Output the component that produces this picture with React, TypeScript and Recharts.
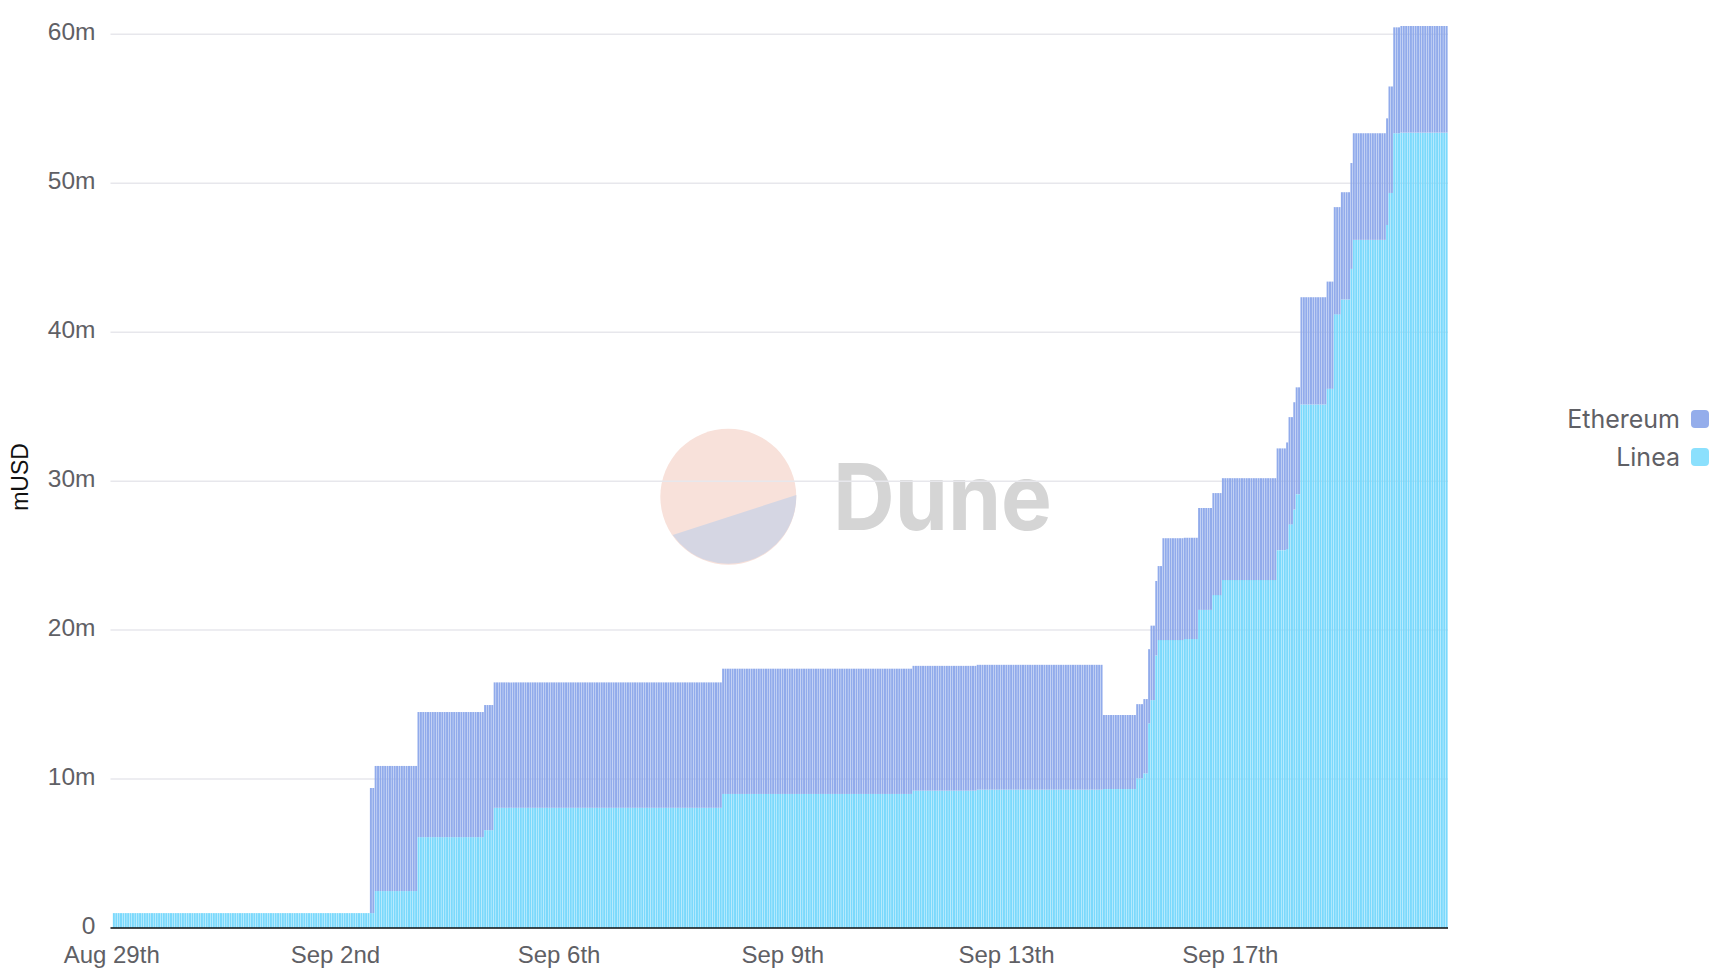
import { BarChart, Bar, XAxis, YAxis, CartesianGrid, Legend } from 'recharts'

// Hourly balances come in long flat runs, so each level is stored once with its length
const hoursAtLevel = [1, 108, 2, 18, 28, 4, 96, 80, 27, 53, 14, 3, 2, 1, 2, 1, 2, 9, 6, 6, 4, 23, 4, 1, 2, 1, 2, 11, 3, 3, 4, 1, 14, 1, 2, 3, 20]
const lineaLevels = [0, 1, 1, 2.48, 6.1, 6.57, 8.07, 9, 9.22, 9.29, 9.33, 10.05, 10.38, 13.74, 15.3, 18.3, 19.33, 19.33, 19.4, 21.36, 22.35, 23.36, 25.37, 25.44, 27.1, 28.1, 29.13, 35.15, 36.2, 41.2, 42.2, 44.25, 46.2, 47.2, 49.35, 53.36, 53.4]
const ethereumLevels = [0, 0, 8.4, 8.4, 8.4, 8.4, 8.42, 8.41, 8.38, 8.38, 4.97, 4.98, 4.99, 4.98, 5, 5, 4.97, 6.84, 6.8, 6.84, 6.85, 6.84, 6.83, 7.16, 7.2, 7.2, 7.17, 7.2, 7.2, 7.2, 7.2, 7.11, 7.16, 7.16, 7.15, 7.11, 7.16]

const tickLabels = ['Aug 29th', 'Sep 2nd', 'Sep 6th', 'Sep 9th', 'Sep 13th', 'Sep 17th']
const hoursPerTick = 94
const yTicks = [0, 10, 20, 30, 40, 50, 60]

const chartData = hoursAtLevel.flatMap((hours, level) =>
  Array.from({ length: hours }, () => ({
    Linea: lineaLevels[level],
    Ethereum: ethereumLevels[level]
  }))
).map((row, hour) => ({ ...row, hour }))

const axisFont = 'Liberation Sans, Arial, sans-serif'
const axisColor = '#5f6065'
const swatchColors: Record<string, string> = { Ethereum: '#94adeb', Linea: '#8be0fd' }

function Watermark() {
  return (
    <svg width={1724} height={976} style={{ position: 'absolute', left: 0, top: 0 }}>
      <circle cx={728.3} cy={496.7} r={68} fill="#f8e1da" />
      <path d="M 672.7 535 L 796.3 495 A 68 68 0 0 1 672.7 535 Z" fill="#d5d6e3" />
      <text
        x={833}
        y={530}
        fontFamily="Inter, sans-serif"
        fontWeight={700}
        fontSize={92}
        fill="#d5d5d5"
        textLength={219}
        lengthAdjust="spacingAndGlyphs"
      >
        Dune
      </text>
    </svg>
  )
}

function LegendList({ payload }: { payload?: Array<{ value: string }> }) {
  return (
    <div style={{ display: 'flex', flexDirection: 'column', alignItems: 'flex-end', paddingRight: 15 }}>
      {(payload ?? []).map((item) => (
        <div key={item.value} style={{ display: 'flex', alignItems: 'center', height: 38 }}>
          <span style={{ fontFamily: 'Inter, sans-serif', fontSize: 25, color: axisColor, marginRight: 11 }}>
            {item.value}
          </span>
          <span style={{ width: 18, height: 18, borderRadius: 4, background: swatchColors[item.value] }} />
        </div>
      ))}
    </div>
  )
}

export default function App() {
  return (
    <div style={{ position: 'fixed', left: 0, top: 0, width: 1724, height: 976, background: '#fff', overflow: 'hidden' }}>
      <Watermark />
      <div style={{ position: 'absolute', left: 0, top: 0 }}>
        <BarChart
          width={1724}
          height={976}
          data={chartData}
          barCategoryGap={0}
          margin={{ top: 26, right: 52, bottom: 0, left: 0 }}
        >
          <CartesianGrid vertical={false} horizontalValues={yTicks} stroke="#e7e7ec" strokeWidth={1.5} />
          <XAxis
            dataKey="hour"
            height={48}
            interval={hoursPerTick - 1}
            tickLine={false}
            tickSize={0}
            tickMargin={18}
            axisLine={{ stroke: '#111', strokeWidth: 1.5 }}
            tick={{ fontFamily: axisFont, fontSize: 24, fill: axisColor }}
            tickFormatter={(hour: number) => tickLabels[hour / hoursPerTick] ?? ''}
          />
          <YAxis
            width={110.5}
            domain={[0, 60.56]}
            ticks={yTicks}
            axisLine={false}
            tickLine={false}
            tickSize={0}
            tickMargin={15}
            tick={{ fontFamily: axisFont, fontSize: 24.5, fill: axisColor, dy: -3 }}
            tickFormatter={(v: number) => (v === 0 ? '0' : `${v}m`)}
            label={{
              value: 'mUSD',
              angle: -90,
              position: 'insideLeft',
              offset: 20,
              style: { fontFamily: axisFont, fontSize: 23, fill: '#111', textAnchor: 'middle' }
            }}
          />
          <Legend
            layout="vertical"
            align="right"
            verticalAlign="middle"
            width={224}
            wrapperStyle={{ top: 400, right: 0 }}
            content={(props: any) => <LegendList payload={props.payload} />}
          />
          <Bar dataKey="Linea" stackId="chain" fill="#74d7fc" fillOpacity={0.95} isAnimationActive={false} />
          <Bar dataKey="Ethereum" stackId="chain" fill="#8ba6ea" fillOpacity={0.95} isAnimationActive={false} />
        </BarChart>
      </div>
    </div>
  )
}
